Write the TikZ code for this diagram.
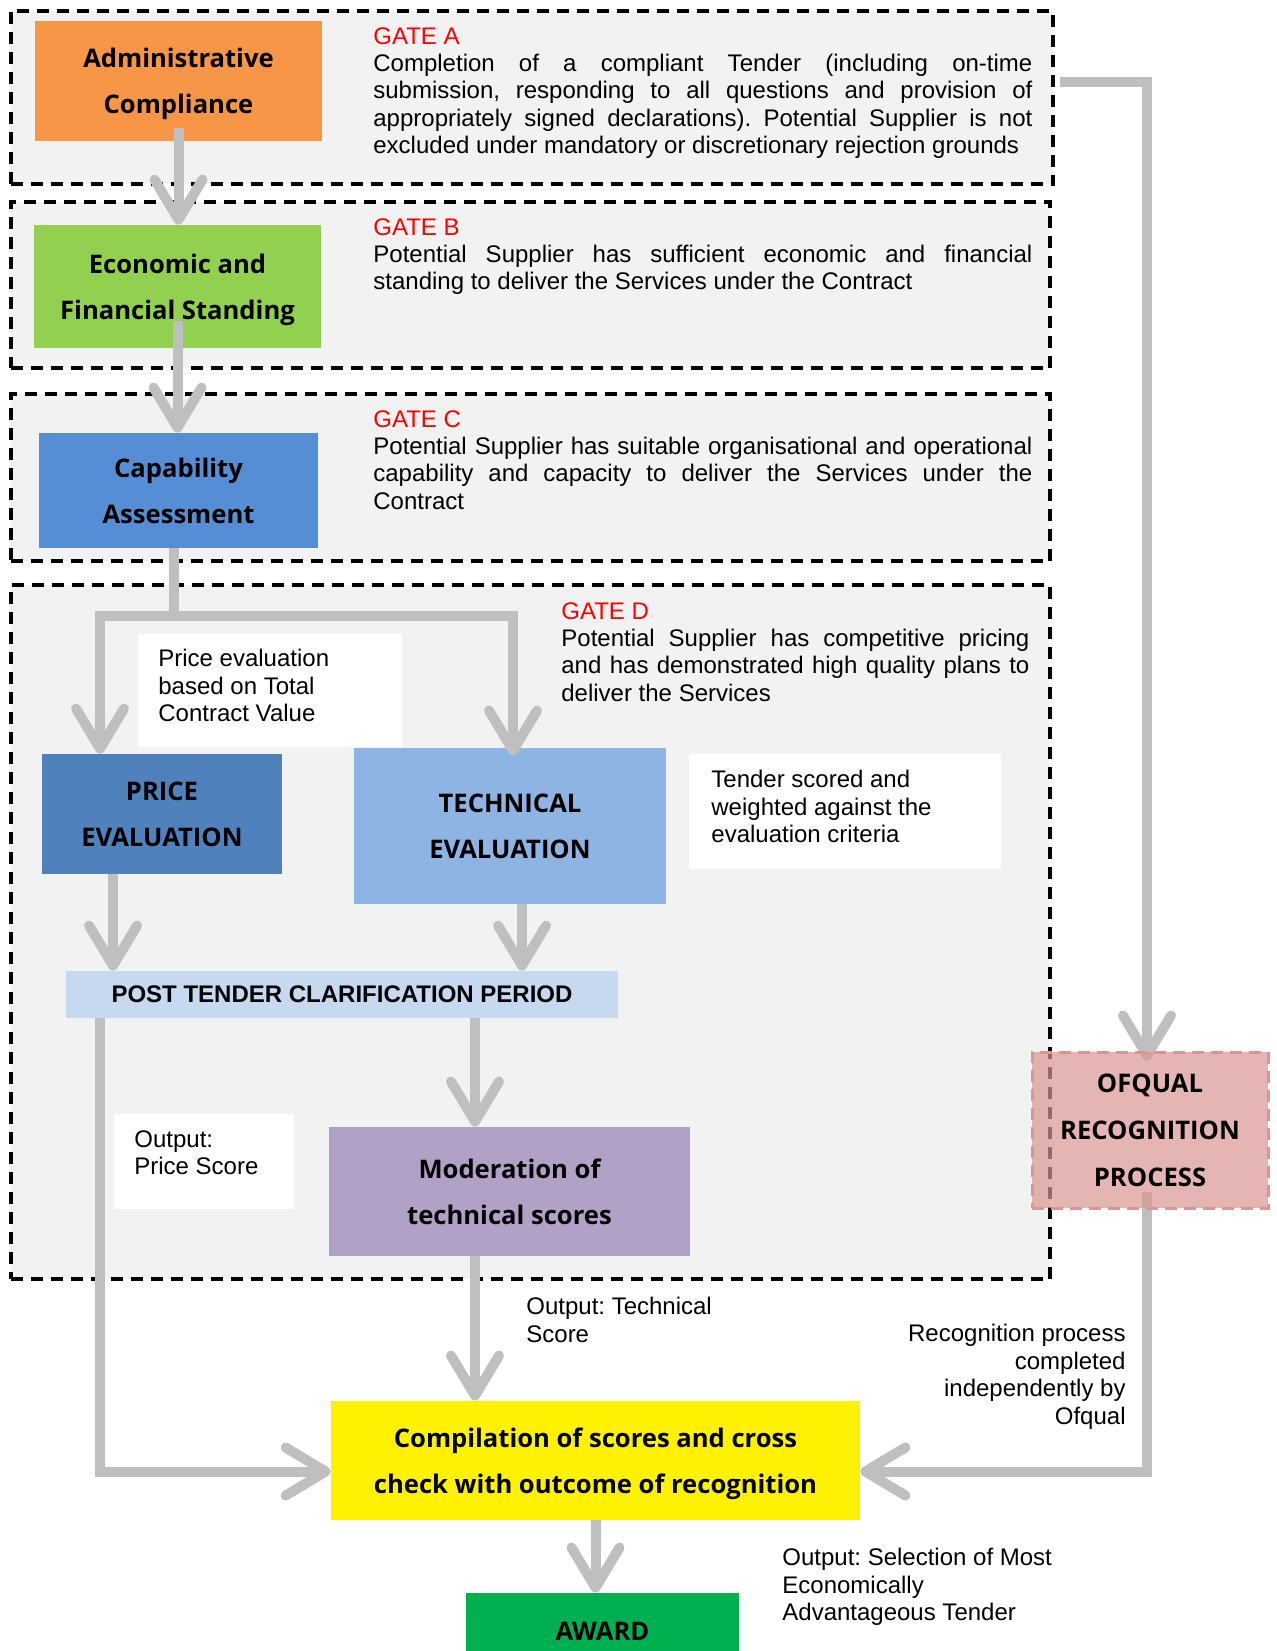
\documentclass[tikz,border=0pt]{standalone}
\usepackage{fontspec}
\setmainfont{Liberation Sans}
\newfontfamily\boxfont{Open Sans}
\usetikzlibrary{arrows.meta}
\definecolor{gatefill}{HTML}{F2F2F2}
\definecolor{gatered}{HTML}{FF0000}
\definecolor{flowgray}{HTML}{BFBFBF}
\definecolor{adminorange}{HTML}{F79646}
\definecolor{econgreen}{HTML}{92D050}
\definecolor{capblue}{HTML}{558ED5}
\definecolor{priceblue}{HTML}{4F81BD}
\definecolor{techblue}{HTML}{8EB4E3}
\definecolor{postblue}{HTML}{C6D9F1}
\definecolor{modpurple}{HTML}{B2A1C7}
\definecolor{ofqualpink}{HTML}{DA9694}
\definecolor{awardgreen}{HTML}{00B050}
\pgfdeclarelayer{front}
\pgfsetlayers{main,front}
\tolerance=10000
\AtBeginDocument{\frenchspacing}

\begin{document}
\begin{tikzpicture}[x=0.5pt, y=-0.5pt,
  gate/.style={draw=black, fill=gatefill, line width=2pt, dash pattern=on 6pt off 4pt, inner sep=0pt},
  stage/.style={inner sep=0pt, align=center, text depth=0pt, execute at begin node={\rule{0pt}{11.6pt}}, font=\boxfont\bfseries\fontsize{12.8}{23}\selectfont},
  gatetext/.style={inner sep=0pt, align=justify, anchor=north west, font=\fontsize{12}{13.7}\selectfont},
  note/.style={inner sep=0pt, align=left, anchor=north west, font=\fontsize{12}{13.7}\selectfont},
  flow/.style={draw=flowgray, line width=5pt, -{Straight Barb[length=20pt, width=24pt, round]}}]
  \useasboundingbox (0,0) rectangle (1277,1651);

  % gates
  \node[gate, minimum width=521.25pt, minimum height=86.75pt] (gateA) at (531.75,97.25) {};
  \node[gate, minimum width=519.75pt, minimum height=83pt] (gateB) at (530.25,285) {};
  \node[gate, minimum width=519.75pt, minimum height=83.5pt] (gateC) at (530.25,477.5) {};
  \node[gate, minimum width=519.75pt, minimum height=347pt] (gateD) at (530.25,932) {};

  \node[gatetext, text width=329.5pt] (gateAtext) at (373,27) {\textcolor{gatered}{GATE A}\\Completion of a compliant Tender (including on-time\linebreak submission, responding to all questions and provision of\linebreak appropriately signed declarations). Potential Supplier is not\linebreak excluded under mandatory or discretionary rejection grounds};
  \node[gatetext, text width=329.5pt] (gateBtext) at (373,218) {\textcolor{gatered}{GATE B}\\Potential Supplier has sufficient economic and financial\linebreak standing to deliver the Services under the Contract};
  \node[gatetext, text width=329.5pt] (gateCtext) at (373,410) {\textcolor{gatered}{GATE C}\\Potential Supplier has suitable organisational and operational\linebreak capability and capacity to deliver the Services under the\linebreak Contract};
  \node[gatetext, text width=234pt] (gateDtext) at (561,602) {\textcolor{gatered}{GATE D}\\Potential Supplier has competitive pricing\linebreak and has demonstrated high quality plans to\linebreak deliver the Services};

  % stages
  \node[stage, fill=adminorange, minimum width=143.5pt, minimum height=60pt] (admin) at (178.5,81) {Administrative\\Compliance};
  \node[stage, fill=econgreen, minimum width=143.5pt, minimum height=61.5pt] (econ) at (177.5,286.5) {Economic and\\Financial Standing};
  \node[stage, fill=capblue, minimum width=139.5pt, minimum height=57.5pt] (cap) at (178.5,490.5) {Capability\\Assessment};
  \node[stage, fill=priceblue, minimum width=120pt, minimum height=60pt] (price) at (162,814) {PRICE\\EVALUATION};
  \node[stage, fill=techblue, minimum width=156pt, minimum height=78pt] (tech) at (510,826) {TECHNICAL\\EVALUATION};
  \node[fill=postblue, minimum width=276pt, minimum height=23.5pt, inner sep=0pt, font=\bfseries\fontsize{12}{14}\selectfont] (post) at (342,994.5) {POST TENDER CLARIFICATION PERIOD};
  \node[stage, fill=modpurple, minimum width=180.5pt, minimum height=64.5pt] (mod) at (509.5,1191.5) {Moderation of\\technical scores};
  \node[stage, fill=yellow, minimum width=264.5pt, minimum height=59.5pt] (comp) at (595.5,1460.5) {Compilation of scores and cross\\check with outcome of recognition};
  \node[stage, fill=awardgreen, minimum width=136.5pt, minimum height=36pt] (award) at (602.5,1629) {AWARD};
  \begin{pgfonlayer}{front}
    \node[stage, font=\boxfont\bfseries\fontsize{12.8}{23.5}\selectfont, execute at begin node={\rule{0pt}{14.6pt}}, fill=ofqualpink, fill opacity=0.7, text opacity=1, draw=ofqualpink, line width=1.5pt, dash pattern=on 6pt off 3.5pt, minimum width=118pt, minimum height=78pt] (ofqual) at (1150,1130) {OFQUAL\\RECOGNITION\\PROCESS};
  \end{pgfonlayer}

  % notes
  \fill[white] (138,634) rectangle (402,747);
  \node[note] (pricenote) at (158,649) {Price evaluation\\based on Total\\Contract Value};
  \fill[white] (689,754) rectangle (1001,869);
  \node[note] (tendernote) at (711,770) {Tender scored and\\weighted against the\\evaluation criteria};
  \fill[white] (114,1114) rectangle (294,1209);
  \node[note] (pricescore) at (134,1130) {Output:\\Price Score};
  \node[note] (techscore) at (526,1297) {Output: Technical\\Score};
  \node[note, anchor=north east, align=right] (recognote) at (1126,1324) {Recognition process\\completed\\independently by\\Ofqual};
  \node[note] (selectnote) at (782,1548) {Output: Selection of Most\\Economically\\Advantageous Tender};

  % gate to gate
  \draw[flow] ([yshift=6.5pt]admin.south) -- (admin.south |- econ.north);
  \draw[flow] ([yshift=13.5pt]econ.south) -- (econ.south |- cap.north);
  % split to the two evaluations
  \coordinate (fork) at (174,616);
  \draw[flow] (cap.south -| fork) -- (fork) -| ([xshift=-31pt]price.north);
  \draw[flow] (fork) -| ([xshift=1.5pt, yshift=-4pt]tech.north);
  % clarification, moderation, compilation
  \draw[flow] ([xshift=-24.5pt]price.south) -- ([xshift=-24.5pt]price.south |- post.north);
  \draw[flow] ([xshift=6pt]tech.south) -- ([xshift=6pt]tech.south |- post.north);
  \draw[flow] ([xshift=-17.25pt]mod.north |- post.south) -- ([xshift=-17.25pt]mod.north);
  \draw[flow] ([xshift=-17.25pt]mod.south) -- ([xshift=-17.25pt]mod.south |- comp.north);
  \draw[flow] ([xshift=-121pt]post.south) |- ([yshift=-5.5pt]comp.west);
  % recognition side
  \draw[flow] ([xshift=2.5pt, yshift=7.5pt]gateA.east) -| ([xshift=-1.5pt, yshift=-5pt]ofqual.north);
  \draw[flow] ([xshift=-1.5pt, yshift=9pt]ofqual.south) |- ([yshift=-5.5pt]comp.east);
  \draw[flow] (comp.south) -- (comp.south |- award.north);
\end{tikzpicture}
\end{document}
